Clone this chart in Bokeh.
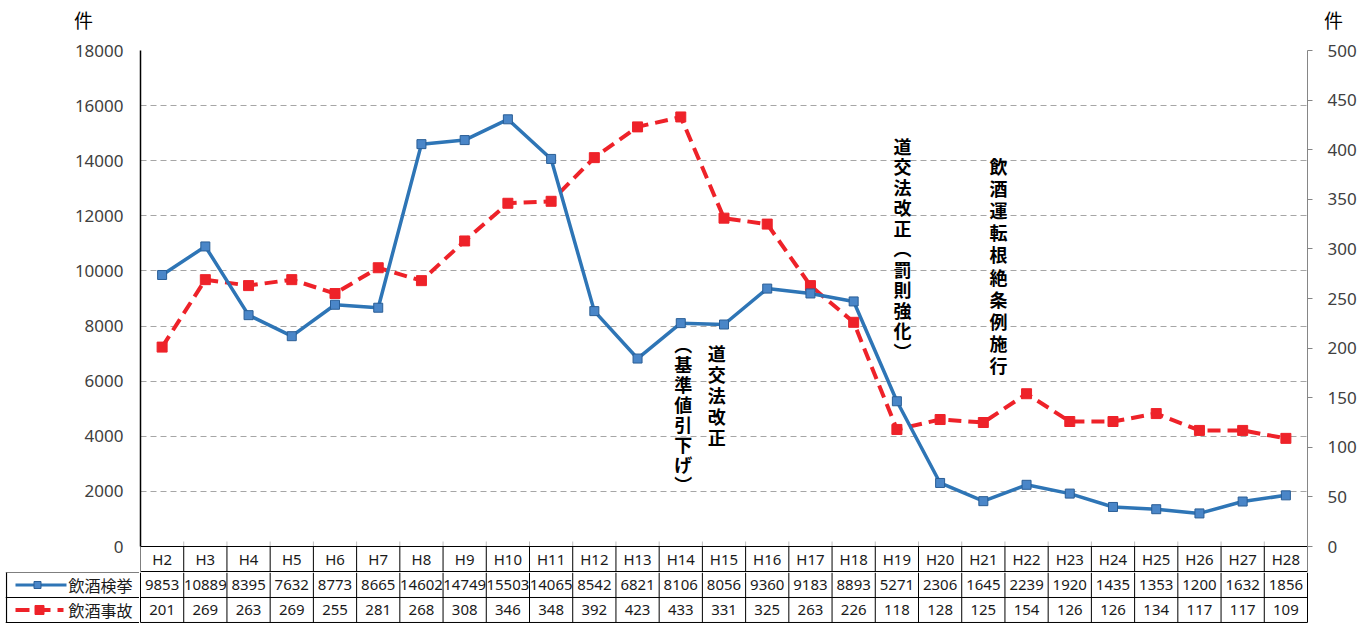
from bokeh.plotting import figure
from bokeh.models import Range1d, LinearAxis, FixedTicker, Div
from bokeh.layouts import column, row
from bokeh.embed import file_html
from bokeh.resources import INLINE
from bokeh.core.properties import value

# ---------------- data ----------------
years = ["H2", "H3", "H4", "H5", "H6", "H7", "H8", "H9", "H10", "H11", "H12", "H13", "H14",
         "H15", "H16", "H17", "H18", "H19", "H20", "H21", "H22", "H23", "H24", "H25", "H26",
         "H27", "H28"]
arrests = [9853, 10889, 8395, 7632, 8773, 8665, 14602, 14749, 15503, 14065, 8542, 6821, 8106,
           8056, 9360, 9183, 8893, 5271, 2306, 1645, 2239, 1920, 1435, 1353, 1200, 1632, 1856]
accidents = [201, 269, 263, 269, 255, 281, 268, 308, 346, 348, 392, 423, 433,
             331, 325, 263, 226, 118, 128, 125, 154, 126, 126, 134, 117, 117, 109]
series_names = ["飲酒検挙", "飲酒事故"]
left_ticks = list(range(0, 18001, 2000))
right_ticks = list(range(0, 501, 50))
unit = "件"
notes = [
    ("道交法改正", 13.33, 352, 21),
    ("︵基準値引下げ︶", 12.56, 343, 20),
    ("道交法改正︵罰則強化︶", 17.63, 145, 20.5),
    ("飲酒運転根絶条例施行", 19.85, 165, 22.2),
]

# ---------------- layout constants ----------------
W = 1371
TOP_DIV = 40
FRAME_L, FRAME_R, FRAME_T, AXIS_Y = 140, 1307, 50, 546
HEADER_H = 25
P_BOTTOM = AXIS_Y + HEADER_H + 1          # 572
n = len(years)
PXC = (FRAME_R - FRAME_L) / n
YMAX, Y2MAX = 18000, 500
PLOT_H = AXIS_Y - FRAME_T
Y_PER_PX = YMAX / PLOT_H
Y2_PER_PX = Y2MAX / PLOT_H
BLUE, BLUE_M, BLUE_E = "#2E75B6", "#4A86C8", "#2A5E96"
RED = "#EE2229"
TXT = "#1a1a1a"
xs = [i + 0.5 for i in range(n)]


def ydata(px):
    return (AXIS_Y - px) * Y_PER_PX


# ---------------- unit labels (top strip) ----------------
span = ('<span style="position:absolute;left:{l}px;top:6px;font-family:\'Noto Sans CJK JP\';'
        'font-size:19px;color:#000">{t}</span>')
top_div = Div(text='<div style="position:relative;width:%dpx;height:%dpx">%s%s</div>'
              % (W, TOP_DIV, span.format(l=74, t=unit), span.format(l=1324, t=unit)),
              width=W, height=TOP_DIV, margin=0)

# ---------------- main chart ----------------
y_start = -(P_BOTTOM - AXIS_Y) * Y_PER_PX
y2_start = -(P_BOTTOM - AXIS_Y) * Y2_PER_PX
p = figure(width=W, height=P_BOTTOM - TOP_DIV, x_range=Range1d(0, n),
           y_range=Range1d(y_start, YMAX),
           output_backend="svg", toolbar_location=None, x_axis_location=None,
           min_border_left=FRAME_L, min_border_right=W - FRAME_R,
           min_border_top=FRAME_T - TOP_DIV, min_border_bottom=0, margin=0)
p.outline_line_color = None
p.background_fill_color = "white"
p.border_fill_color = "white"
p.extra_y_ranges = {"acc": Range1d(y2_start, Y2MAX)}

ya = p.yaxis[0]
ya.ticker = FixedTicker(ticks=left_ticks)
ya.bounds = (0, YMAX)
ya.axis_line_color = "#000000"
ya.axis_line_width = 1.5
ya.major_tick_line_color = None
ya.minor_tick_line_color = None
ya.major_label_text_font = "Noto Sans"
ya.major_label_text_font_size = "17px"
ya.major_label_text_color = "#404040"
ya.major_label_standoff = 11

ra = LinearAxis(y_range_name="acc", ticker=FixedTicker(ticks=right_ticks), bounds=(0, Y2MAX))
ra.axis_line_color = "#868686"
ra.major_tick_line_color = "#868686"
ra.major_tick_out = 5
ra.major_tick_in = 0
ra.minor_tick_line_color = None
ra.major_label_text_font = "Noto Sans"
ra.major_label_text_font_size = "17px"
ra.major_label_text_color = "#404040"
ra.major_label_standoff = 15
p.add_layout(ra, "right")

p.xgrid.visible = False
p.ygrid.ticker = FixedTicker(ticks=left_ticks[1:])
p.ygrid.grid_line_color = "#A6A6A6"
p.ygrid.grid_line_dash = "6 4"
p.ygrid.grid_line_width = 1

# series
p.line(xs, accidents, y_range_name="acc", line_color=RED, line_width=4, line_dash="13 7")
p.scatter(xs, accidents, y_range_name="acc", marker="square", size=10,
          fill_color=RED, line_color=RED)
p.line(xs, arrests, line_color=BLUE, line_width=3.5)
p.scatter(xs, arrests, marker="square", size=9, fill_color=BLUE_M, line_color=BLUE_E,
          line_width=1)

# vertical annotations
for txt, xcat, top, step in notes:
    cx, cy = [], []
    for k, ch in enumerate(txt):
        cx.append(xcat)
        cy.append(ydata(top + k * step))
    p.text(cx, cy, text=list(txt), text_font=value("Noto Sans CJK JP"),
           text_font_style="bold", text_font_size="18px", text_color="#000000",
           text_align="center", text_baseline="middle")

# x axis line + header row of the table (inside the chart frame)
hdr_bottom = ydata(AXIS_Y + HEADER_H)
x_v = [float(i) for i in range(n + 1)]
p.segment(x0=x_v, y0=[0] * len(x_v), x1=x_v, y1=[hdr_bottom] * len(x_v),
          line_color="#000000", line_width=1)
p.segment(x0=x_v, y0=[0] * len(x_v), x1=x_v, y1=[ydata(AXIS_Y - 5)] * len(x_v),
          line_color="#BFBFBF", line_width=1)
p.segment(x0=[0, 0], y0=[0, hdr_bottom], x1=[n, n], y1=[0, hdr_bottom],
          line_color="#000000", line_width=1.2)
p.text(xs, [hdr_bottom / 2] * n, text=years, text_font=value("Noto Sans"),
       text_font_size="15px", text_color=TXT, text_align="center", text_baseline="middle")

# ---------------- table body ----------------
TB_H = 625 - P_BOTTOM                     # 53
ROW_H = 24.5
t = figure(width=W - FRAME_L + 1, height=TB_H,
           x_range=Range1d(-1 / PXC, n + 1 / PXC), y_range=Range1d(-1, 2 * ROW_H),
           output_backend="svg", toolbar_location=None, x_axis_location=None,
           y_axis_location=None, min_border_left=0, min_border_right=W - FRAME_R - 1,
           min_border_top=0, min_border_bottom=TB_H - int(2 * ROW_H + 1) - 1, margin=0)
t.outline_line_color = None
t.grid.visible = False
t.background_fill_color = "white"
t.border_fill_color = "white"
t.segment(x0=x_v, y0=[0] * len(x_v), x1=x_v, y1=[2 * ROW_H] * len(x_v),
          line_color="#000000", line_width=1)
t.segment(x0=[0, 0], y0=[ROW_H, 0], x1=[n, n], y1=[ROW_H, 0],
          line_color="#000000", line_width=1)
t.text(xs, [ROW_H * 1.5] * n, text=[str(v) for v in arrests], text_font=value("Noto Sans"),
       text_font_size="15px", text_color=TXT, text_align="center", text_baseline="middle")
t.text(xs, [ROW_H * 0.5] * n, text=[str(v) for v in accidents], text_font=value("Noto Sans"),
       text_font_size="15px", text_color=TXT, text_align="center", text_baseline="middle")

# ---------------- legend column ----------------
LW = FRAME_L - 1 - 5
lf = figure(width=FRAME_L - 1, height=TB_H, x_range=Range1d(0, LW),
            y_range=Range1d(-1, 2 * ROW_H),
            output_backend="svg", toolbar_location=None, x_axis_location=None,
            y_axis_location=None, min_border_left=5, min_border_right=0,
            min_border_top=0, min_border_bottom=TB_H - int(2 * ROW_H + 1) - 1, margin=0)
lf.outline_line_color = None
lf.grid.visible = False
lf.background_fill_color = "white"
lf.border_fill_color = "white"
lf.segment(x0=[1, 0, 0, 0], y0=[0, 2 * ROW_H, ROW_H, 0], x1=[1, LW, LW, LW],
           y1=[2 * ROW_H, 2 * ROW_H, ROW_H, 0], line_color="#000000", line_width=1.2)
lf.line([10, 61], [ROW_H * 1.5] * 2, line_color=BLUE, line_width=3)
lf.scatter([32], [ROW_H * 1.5], marker="square", size=7, fill_color=BLUE_M, line_color=BLUE_E)
lf.line([10, 58], [ROW_H * 0.5] * 2, line_color=RED, line_width=4, line_dash="14 7")
lf.scatter([34], [ROW_H * 0.5], marker="square", size=9, fill_color=RED, line_color=RED)
lf.text([63, 63], [ROW_H * 1.5, ROW_H * 0.5], text=series_names,
        text_font=value("Noto Sans CJK JP"), text_font_size="16px", text_color=TXT,
        text_align="left", text_baseline="middle")

layout = column(top_div, p, row(lf, t, spacing=0), spacing=0)
open("out.html", "w").write(file_html(layout, INLINE))
